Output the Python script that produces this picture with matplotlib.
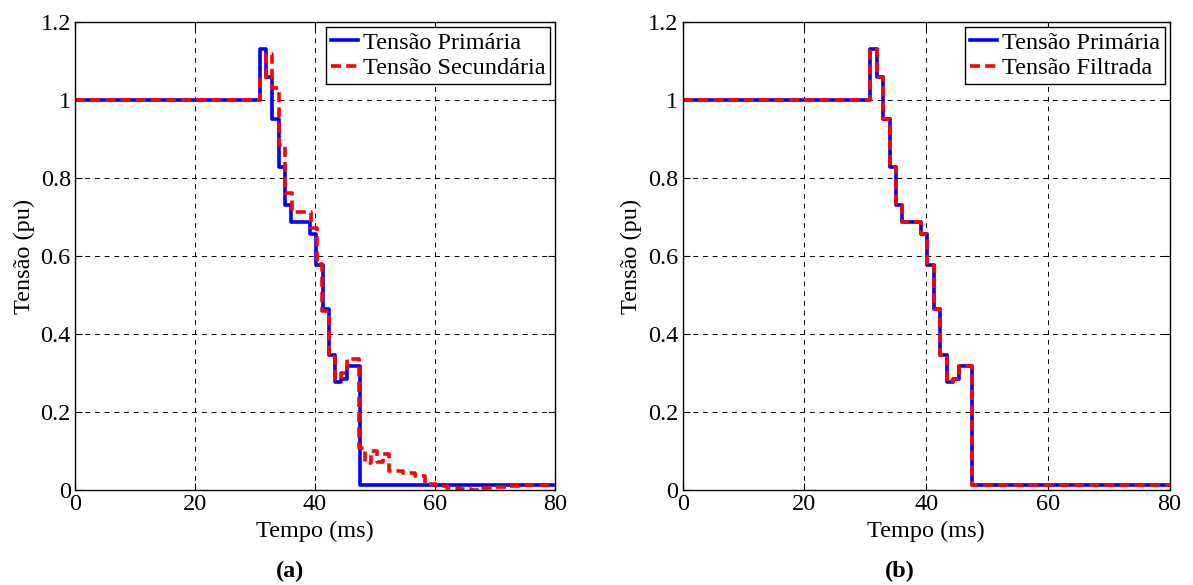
import matplotlib
matplotlib.use("Agg")
import matplotlib.pyplot as plt

# Data (time in ms, voltage in pu)
t_prim = [0, 30.8, 31.85, 32.9, 34.0, 35.0, 36.0, 39.1, 40.2, 41.25, 42.3, 43.35, 44.4, 45.4, 47.5, 80]
v_prim = [1.0, 1.131, 1.06, 0.95, 0.827, 0.731, 0.686, 0.656, 0.578, 0.463, 0.346, 0.278, 0.285, 0.318, 0.012, 0.012]

t_sec = [0, 30.8, 31.8, 32.9, 34.0, 35.0, 36.1, 39.3, 40.3, 41.2, 42.3, 43.3, 44.3, 45.3,
         47.4, 48.4, 49.4, 50.4, 51.4, 52.4, 54.6, 56.6, 58.4, 60.2, 62.0, 64.0, 66.0, 68.0,
         70.0, 72.0, 74.0, 80]
v_sec = [1.0, 1.06, 1.118, 1.03, 0.885, 0.761, 0.712, 0.671, 0.58, 0.46, 0.342, 0.285, 0.30, 0.335,
         0.107, 0.07, 0.10, 0.072, 0.092, 0.048, 0.043, 0.035, 0.015, 0.009, 0.006, 0.003, 0.001, 0.004,
         0.008, 0.011, 0.013, 0.013]

t_filt = [0, 30.8, 31.85, 32.9, 34.0, 35.0, 36.0, 39.1, 40.2, 41.25, 42.3, 43.35, 44.4, 45.4, 47.5, 80]
v_filt = [1.0, 1.131, 1.06, 0.95, 0.827, 0.731, 0.686, 0.656, 0.578, 0.463, 0.346, 0.278, 0.285, 0.318, 0.012, 0.012]

xticks = [0, 20, 40, 60, 80]
yticks = [0, 0.2, 0.4, 0.6, 0.8, 1, 1.2]
ytick_labels = ["0", "0.2", "0.4", "0.6", "0.8", "1", "1.2"]

plt.rcParams['font.family'] = ['Liberation Serif', 'DejaVu Serif']
plt.rcParams['font.size'] = 17.5

fig = plt.figure(figsize=(11.93, 5.85), dpi=100)
ax1 = fig.add_axes([0.0629, 0.1624, 0.4023, 0.800])
ax2 = fig.add_axes([0.5722, 0.1624, 0.4082, 0.800])


def style_axes(ax):
    ax.set_xlim(0, 80)
    ax.set_ylim(0, 1.2)
    ax.set_xticks(xticks)
    ax.set_yticks(yticks)
    ax.set_yticklabels(ytick_labels)
    ax.tick_params(direction='in', top=True, right=True, length=5, width=0.8, pad=3)
    ax.grid(True, color='k', linewidth=0.7, linestyle=(0, (5, 5)))
    ax.set_axisbelow(True)
    for s in ax.spines.values():
        s.set_linewidth(1.0)
    ax.set_xlabel('Tempo (ms)', labelpad=4)
    ax.set_ylabel('Tensão (pu)', labelpad=4)


# (a) primary vs secondary
ax1.step(t_prim, v_prim, where='post', color='#0000ff', lw=2.6, label='Tensão Primária')
ax1.step(t_sec, v_sec, where='post', color='#ff0000', lw=2.6, linestyle=(0, (2.8, 1.4)),
         label='Tensão Secundária')
style_axes(ax1)
leg = ax1.legend(loc='upper right', borderaxespad=0.2, handlelength=1.1, handletextpad=0.2,
                 labelspacing=0.15, borderpad=0.2, fancybox=False, framealpha=1, edgecolor='k')
leg.get_frame().set_linewidth(1.0)

# (b) primary vs filtered
ax2.step(t_prim, v_prim, where='post', color='#0000ff', lw=2.6, label='Tensão Primária')
ax2.step(t_filt, v_filt, where='post', color='#ff0000', lw=2.6, linestyle=(0, (2.8, 1.4)),
         label='Tensão Filtrada')
style_axes(ax2)
leg = ax2.legend(loc='upper right', borderaxespad=0.2, handlelength=1.1, handletextpad=0.2,
                 labelspacing=0.15, borderpad=0.2, fancybox=False, framealpha=1, edgecolor='k')
leg.get_frame().set_linewidth(1.0)

fig.text(290 / 1193, 1 - 571 / 585, '(a)', ha='center', va='center', fontweight='bold')
fig.text(900 / 1193, 1 - 571 / 585, '(b)', ha='center', va='center', fontweight='bold')

fig.savefig('out.png', dpi=100)
